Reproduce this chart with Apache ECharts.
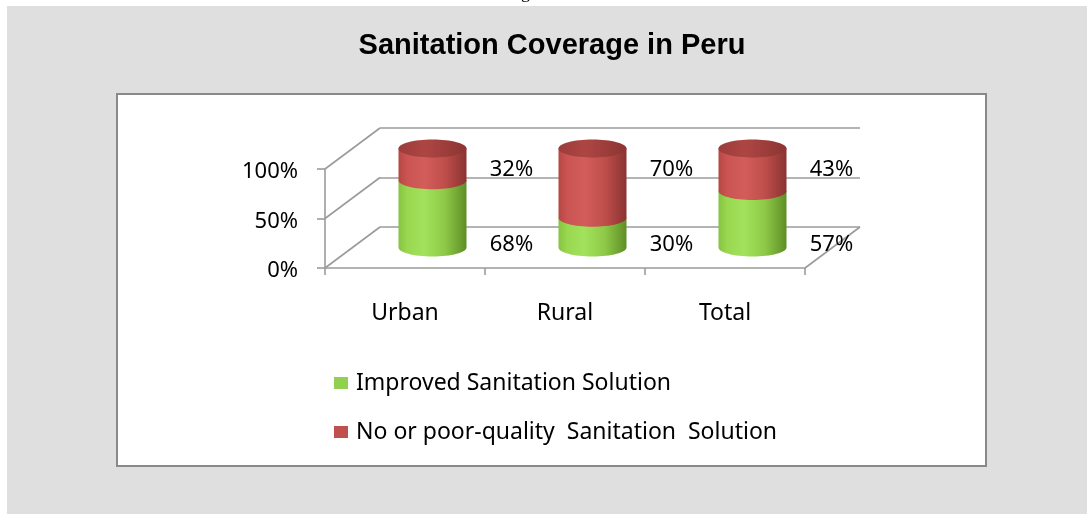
<!DOCTYPE html>
<html><head><meta charset="utf-8">
<script src="https://cdn.jsdelivr.net/npm/echarts@6/dist/echarts.min.js"></script>
<style>html,body{margin:0;padding:0;background:#fff}#c{width:1087px;height:514px}</style>
</head><body><div id="c"></div>
<script>
const titleText = 'Sanitation Coverage in Peru';
const categories = ['Urban', 'Rural', 'Total'];
const improved = [68, 30, 57];
const poorQuality = [32, 70, 43];
const yTickValues = [0, 50, 100];
const yTickLabels = ['0%', '50%', '100%'];
const seriesNames = ['Improved Sanitation Solution', 'No or poor-quality  Sanitation  Solution'];

const FONT = 'Noto Sans';
const AXIS = '#9b9b9b';
const DEPTH = [55, -41];
const MID = [27.5, -20.5];
const RX = 34, RY = 9, K = 0.5523;
const LABEL_OFFSET_X = 79;
const LABEL_LEVEL = [3, 79];

const green = '#92d050', red = '#c0504d';
const greenGrad = [[0,'#86c241'],[0.12,'#98d74f'],[0.38,'#a3e25c'],[0.68,'#8ec947'],[1,'#5e8e27']];
const redGrad = [[0,'#b54745'],[0.12,'#c95451'],[0.38,'#d45d5a'],[0.68,'#bf4e4b'],[1,'#8a3331']];
const capGrad = [[0,'#9a3d3b'],[0.4,'#ad4643'],[1,'#8b3533']];

function grad(stops){
  return new echarts.graphic.LinearGradient(0,0,1,0, stops.map(s=>({offset:s[0], color:s[1]})));
}
function bodyPath(cx, y0, y1){
  return `M${cx-RX},${y1} L${cx-RX},${y0} C${cx-RX},${y0+K*RY} ${cx-K*RX},${y0+RY} ${cx},${y0+RY} ` +
         `C${cx+K*RX},${y0+RY} ${cx+RX},${y0+K*RY} ${cx+RX},${y0} L${cx+RX},${y1} Z`;
}
function ellipsePath(cx, cy){
  return `M${cx-RX},${cy} C${cx-RX},${cy-K*RY} ${cx-K*RX},${cy-RY} ${cx},${cy-RY} ` +
         `C${cx+K*RX},${cy-RY} ${cx+RX},${cy-K*RY} ${cx+RX},${cy} ` +
         `C${cx+RX},${cy+K*RY} ${cx+K*RX},${cy+RY} ${cx},${cy+RY} ` +
         `C${cx-K*RX},${cy+RY} ${cx-RX},${cy+K*RY} ${cx-RX},${cy} Z`;
}
function cylinderItem(layer){
  return function(params, api){
    const ci = api.value(0), lo = api.value(1), hi = api.value(2);
    const pLo = api.coord([ci, lo]), pHi = api.coord([ci, hi]);
    const cx = pLo[0] + MID[0], y0 = pLo[1] + MID[1], y1 = pHi[1] + MID[1];
    const children = [{
      type:'path', shape:{pathData: bodyPath(cx, y0, y1)},
      style:{fill: grad(layer === 0 ? greenGrad : redGrad)}
    }];
    if (layer === 1) {
      children.push({type:'path', shape:{pathData: ellipsePath(cx, y1)}, style:{fill: grad(capGrad)}});
    }
    const ly = api.coord([ci, LABEL_LEVEL[layer]])[1] + MID[1];
    children.push({type:'text', x: cx + LABEL_OFFSET_X, y: ly,
      style:{text: Math.round(hi - lo) + '%', fill:'#000', font:`22px "${FONT}"`, align:'center', verticalAlign:'middle'}});
    return {type:'group', children};
  };
}
function diagItem(params, api){
  const v = api.value(1);
  const cs = params.coordSys;
  const y = api.coord([0, v])[1];
  const st = {stroke: AXIS, lineWidth: 1.6};
  const ch = [{type:'line', shape:{x1:cs.x, y1:y, x2:cs.x+DEPTH[0], y2:y+DEPTH[1]}, style:st}];
  if (v === yTickValues[0]) {
    ch.push({type:'line', shape:{x1:cs.x+cs.width, y1:y, x2:cs.x+cs.width+DEPTH[0], y2:y+DEPTH[1]}, style:st});
  }
  return {type:'group', children: ch};
}

const legendText = {fontFamily:FONT, fontSize:23, color:'#000', lineHeight:24, padding:[0,0,0,3]};
const chart = echarts.init(document.getElementById('c'), null, {renderer:'canvas'});
chart.setOption({
  animation:false,
  backgroundColor:'#fff',
  title:{text:titleText, left:547, top:26, textAlign:'center',
    textStyle:{fontFamily:'Liberation Sans', fontWeight:'bold', fontSize:29, color:'#000'}},
  graphic:[
    {type:'text', x:521, y:-16, z:-20, style:{text:'g', font:'18px "Liberation Serif"', fill:'#000'}},
    {type:'rect', z:-15, shape:{x:7, y:6, width:1080, height:508}, style:{fill:'#dfdfdf'}},
    {type:'rect', z:-10, shape:{x:117, y:94, width:869, height:372}, style:{fill:'#fff', stroke:'#8a8a8a', lineWidth:2}}
  ],
  legend:[
    {data:[seriesNames[0]], left:329, top:366, icon:'rect', itemWidth:14, itemHeight:12, selectedMode:false,
      textStyle:legendText},
    {data:[seriesNames[1]], left:329, top:415, icon:'rect', itemWidth:14, itemHeight:12, selectedMode:false,
      textStyle:legendText}
  ],
  grid:[
    {left:325, top:169, width:480, height:99},
    {left:380, top:128, width:480, height:99}
  ],
  xAxis:[
    {type:'category', gridIndex:0, data:categories, boundaryGap:true,
      axisLine:{lineStyle:{color:AXIS, width:1.6}},
      axisTick:{show:true, length:7, lineStyle:{color:AXIS, width:1.6}},
      axisLabel:{fontFamily:FONT, fontSize:23, color:'#000', margin:34}},
    {type:'category', gridIndex:1, data:categories, show:false}
  ],
  yAxis:[
    {type:'value', gridIndex:0, min:0, max:100, interval:50,
      axisLine:{show:true, lineStyle:{color:AXIS, width:1.6}},
      axisTick:{show:true, length:8, lineStyle:{color:AXIS, width:1.6}},
      splitLine:{show:false},
      axisLabel:{fontFamily:FONT, fontSize:22, color:'#000', margin:27,
        formatter:v => '{p|' + yTickLabels[yTickValues.indexOf(v)] + '}',
        rich:{p:{fontFamily:FONT, fontSize:22, color:'#000', padding:[6,0,0,0]}}}},
    {type:'value', gridIndex:1, min:0, max:100, interval:50,
      axisLine:{show:false}, axisTick:{show:false}, axisLabel:{show:false},
      splitLine:{show:true, lineStyle:{color:AXIS, width:1.6}}}
  ],
  series:[
    {type:'custom', name:'diag', xAxisIndex:0, yAxisIndex:0, renderItem:diagItem,
      data:yTickValues.map(v=>[0, v]), encode:{x:0, y:1}, z:1, silent:true},
    {type:'custom', name:seriesNames[0], xAxisIndex:0, yAxisIndex:0, renderItem:cylinderItem(0),
      itemStyle:{color:green}, encode:{x:0, y:2}, z:3,
      data:categories.map((c,i)=>[i, 0, improved[i]])},
    {type:'custom', name:seriesNames[1], xAxisIndex:0, yAxisIndex:0, renderItem:cylinderItem(1),
      itemStyle:{color:red}, encode:{x:0, y:2}, z:4,
      data:categories.map((c,i)=>[i, improved[i], improved[i] + poorQuality[i]])}
  ]
});
</script></body></html>
